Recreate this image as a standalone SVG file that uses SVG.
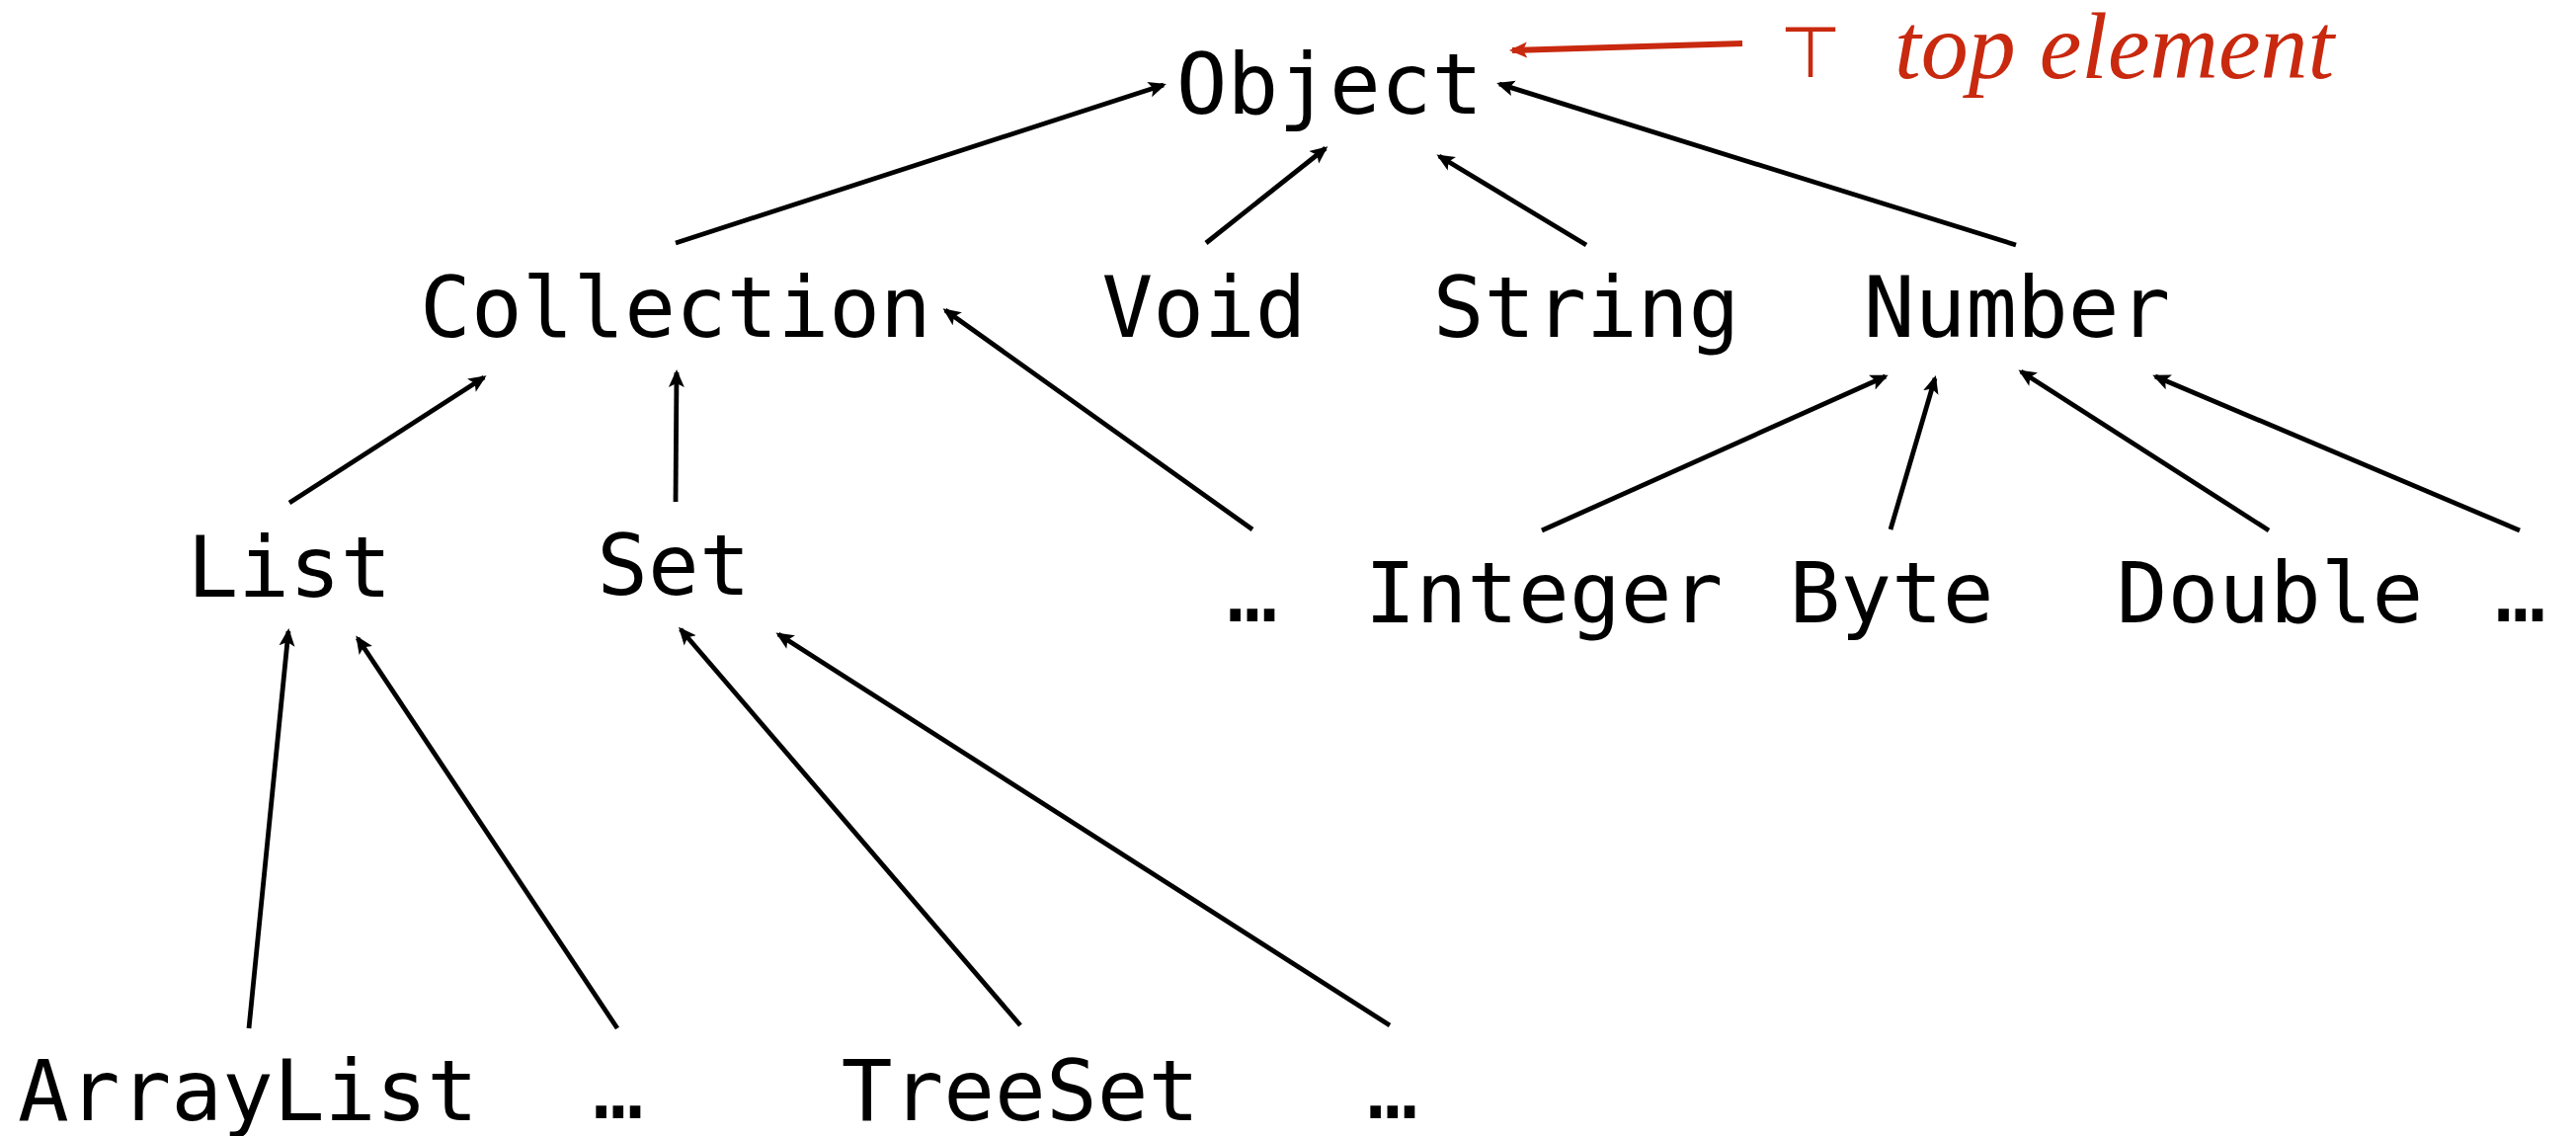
<svg xmlns="http://www.w3.org/2000/svg" width="2608" height="1150" viewBox="0 0 2608 1150">
  <defs>
    <style>
      .node { font-family: "DejaVu Sans Mono", "Liberation Mono", monospace; font-size: 86px; fill: #000; text-anchor: middle; }
      .edge { stroke: #000; stroke-width: 4.8; fill: none; marker-end: url(#head); }
      .note { fill: #c8290f; }
      .note-edge { stroke: #c8290f; stroke-width: 6; fill: none; marker-end: url(#head-red); }
    </style>
    <marker id="head" markerUnits="userSpaceOnUse" markerWidth="20" markerHeight="18" refX="15" refY="9" orient="auto">
      <path d="M0,1 L18,9 L0,17 L4,9 z" fill="#000"/>
    </marker>
    <marker id="head-red" markerUnits="userSpaceOnUse" markerWidth="20" markerHeight="18" refX="15" refY="9" orient="auto">
      <path d="M0,1 L18,9 L0,17 L4,9 z" fill="#c8290f"/>
    </marker>
  </defs>
  <rect width="2608" height="1150" fill="#fff"/>

  <!-- subtype edges, child to parent -->
  <g id="connectors">
    <line class="edge" x1="684" y1="246" x2="1178" y2="86"/>
    <line class="edge" x1="1221" y1="246" x2="1342" y2="150"/>
    <line class="edge" x1="1606" y1="248" x2="1457" y2="158"/>
    <line class="edge" x1="2041" y1="248" x2="1518" y2="85"/>

    <line class="edge" x1="293" y1="509" x2="490" y2="382"/>
    <line class="edge" x1="684" y1="508" x2="685" y2="377"/>
    <line class="edge" x1="1268" y1="536" x2="957" y2="314"/>

    <line class="edge" x1="1561" y1="537" x2="1909" y2="381"/>
    <line class="edge" x1="1914" y1="536" x2="1959" y2="383"/>
    <line class="edge" x1="2297" y1="537" x2="2046" y2="376"/>
    <line class="edge" x1="2551" y1="537" x2="2182" y2="381"/>

    <line class="edge" x1="252" y1="1041" x2="292" y2="639"/>
    <line class="edge" x1="625" y1="1041" x2="362" y2="646"/>
    <line class="edge" x1="1033" y1="1038" x2="689" y2="637"/>
    <line class="edge" x1="1407" y1="1038" x2="788" y2="642"/>

    <line class="note-edge" x1="1764" y1="44" x2="1531" y2="51"/>
  </g>

  <!-- top element annotation -->
  <g id="top-label">
    <text class="note" x="1833" y="78" font-family="DejaVu Sans, sans-serif" font-size="72" text-anchor="middle">⊤</text>
    <text class="note" x="1918" y="79" font-family="Liberation Serif, serif" font-style="italic" font-size="96">top element</text>
  </g>

  <g id="object"><text class="node" x="1346" y="115">Object</text></g>

  <g id="collection"><text class="node" x="684" y="341">Collection</text></g>
  <g id="void"><text class="node" x="1219" y="341">Void</text></g>
  <g id="string"><text class="node" x="1606" y="341">String</text></g>
  <g id="number"><text class="node" x="2042" y="341">Number</text></g>

  <g id="list"><text class="node" x="293" y="604">List</text></g>
  <g id="set"><text class="node" x="682" y="602">Set</text></g>
  <g id="collection-more"><text class="node" x="1268" y="629">…</text></g>

  <g id="integer"><text class="node" x="1563" y="630">Integer</text></g>
  <g id="byte"><text class="node" x="1915" y="630">Byte</text></g>
  <g id="double"><text class="node" x="2298" y="630">Double</text></g>
  <g id="number-more"><text class="node" x="2552" y="629">…</text></g>

  <g id="arraylist"><text class="node" x="251" y="1134">ArrayList</text></g>
  <g id="list-more"><text class="node" x="626" y="1132">…</text></g>
  <g id="treeset"><text class="node" x="1033" y="1134">TreeSet</text></g>
  <g id="set-more"><text class="node" x="1410" y="1132">…</text></g>
</svg>
